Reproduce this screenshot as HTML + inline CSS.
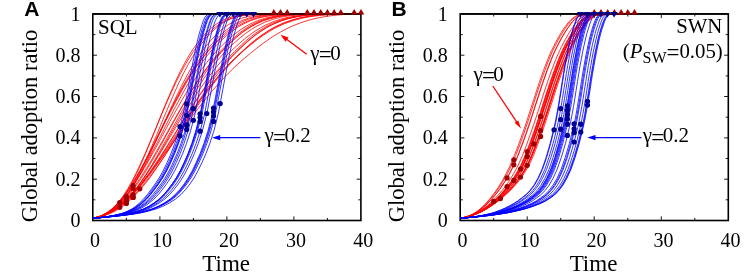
<!DOCTYPE html>
<html lang="en">
<head>
<meta charset="utf-8">
<title>Global adoption ratio vs time</title>
<style>
html,body{margin:0;padding:0;background:#fff;}
body{width:747px;height:278px;overflow:hidden;}
svg{display:block;}
</style>
</head>
<body>
<svg width="747" height="278" viewBox="0 0 747 278" font-family="'Liberation Serif', 'Times New Roman', serif" fill="#000">
<rect width="747" height="278" fill="#fff"/>
<g stroke="#000" stroke-width="1.6" fill="none">
<rect x="92.8" y="13.9" width="268.1" height="206.6"/>
</g>
<g stroke="#000" stroke-width="0.9" fill="none">
<path d="M126.4,220.5 v-2.6 M126.4,13.9 v2.6"/>
<path d="M159.9,220.5 v-4.2 M159.9,13.9 v4.2"/>
<path d="M193.4,220.5 v-2.6 M193.4,13.9 v2.6"/>
<path d="M226.9,220.5 v-4.2 M226.9,13.9 v4.2"/>
<path d="M260.4,220.5 v-2.6 M260.4,13.9 v2.6"/>
<path d="M293.9,220.5 v-4.2 M293.9,13.9 v4.2"/>
<path d="M327.4,220.5 v-2.6 M327.4,13.9 v2.6"/>
<path d="M92.8,199.8 h2.6 M360.9,199.8 h-2.6"/>
<path d="M92.8,179.2 h4.2 M360.9,179.2 h-4.2"/>
<path d="M92.8,158.5 h2.6 M360.9,158.5 h-2.6"/>
<path d="M92.8,137.9 h4.2 M360.9,137.9 h-4.2"/>
<path d="M92.8,117.2 h2.6 M360.9,117.2 h-2.6"/>
<path d="M92.8,96.5 h4.2 M360.9,96.5 h-4.2"/>
<path d="M92.8,75.9 h2.6 M360.9,75.9 h-2.6"/>
<path d="M92.8,55.2 h4.2 M360.9,55.2 h-4.2"/>
<path d="M92.8,34.6 h2.6 M360.9,34.6 h-2.6"/>
</g>
<clipPath id="clipA"><rect x="92.8" y="5.9" width="274.1" height="215.1"/></clipPath>
<g clip-path="url(#clipA)">
<g fill="none" stroke="#ff0000" stroke-width="0.8" stroke-linejoin="round">
<path d="M92.8,218.2 L97.2,217.4 L101.6,216.1 L106.0,214.1 L110.3,211.3 L114.7,207.6 L119.1,202.8 L123.4,197.0 L127.8,190.2 L132.2,182.4 L136.5,173.7 L140.9,164.3 L145.3,154.2 L149.6,143.7 L154.0,133.0 L158.4,122.1 L162.7,111.2 L167.1,100.6 L171.5,90.4 L175.8,80.7 L180.2,71.6 L184.6,63.3 L188.9,55.6 L193.3,48.8 L197.7,42.8 L202.1,37.5 L206.4,32.6 L210.8,28.5 L215.2,24.9 L219.5,22.0 L225.6,19.0 L231.6,16.9 L237.6,15.6 L243.7,14.8 L249.7,14.3 L255.7,14.1 L261.8,14.0 L267.8,13.9 L273.8,13.9"/>
<path d="M92.8,218.2 L97.2,217.3 L101.6,215.9 L106.0,213.7 L110.3,210.6 L114.7,206.6 L119.1,201.6 L123.4,195.6 L127.8,188.7 L132.2,180.9 L136.5,172.3 L140.9,163.0 L145.3,153.2 L149.6,143.1 L154.0,132.7 L158.4,122.2 L162.7,111.9 L167.1,101.7 L171.5,92.0 L175.8,82.6 L180.2,73.9 L184.6,65.8 L188.9,58.4 L193.3,51.6 L197.7,45.6 L202.1,40.3 L206.4,35.3 L210.8,30.9 L215.2,27.1 L219.5,23.9 L225.6,20.5 L231.6,18.0 L237.6,16.3 L243.7,15.2 L249.7,14.6 L255.7,14.2 L261.8,14.0 L267.8,13.9 L273.8,13.9"/>
<path d="M92.8,218.2 L97.4,217.4 L101.9,216.2 L106.4,214.4 L111.0,211.9 L115.5,208.4 L120.0,204.0 L124.6,198.5 L129.1,192.0 L133.6,184.5 L138.1,176.1 L142.7,166.9 L147.2,157.0 L151.7,146.6 L156.3,135.8 L160.8,124.9 L165.3,113.9 L169.9,103.2 L174.4,92.8 L178.9,82.8 L183.4,73.5 L188.0,64.8 L192.5,57.0 L197.0,49.9 L201.6,43.6 L206.1,38.1 L210.6,33.1 L215.2,28.8 L219.7,25.1 L224.2,22.1 L230.5,19.0 L236.7,16.9 L243.0,15.5 L249.2,14.7 L255.5,14.3 L261.8,14.1 L268.0,14.0 L274.3,13.9 L280.5,13.9"/>
<path d="M92.8,218.2 L97.5,217.3 L102.2,216.0 L106.9,214.0 L111.6,211.2 L116.3,207.4 L121.0,202.8 L125.7,197.1 L130.4,190.5 L135.1,183.0 L139.8,174.6 L144.5,165.6 L149.2,156.0 L153.8,145.9 L158.5,135.5 L163.2,125.1 L167.9,114.7 L172.6,104.4 L177.3,94.5 L182.0,85.0 L186.7,76.0 L191.4,67.7 L196.1,60.0 L200.8,53.0 L205.5,46.8 L210.1,41.2 L214.8,36.1 L219.5,31.5 L224.2,27.6 L228.9,24.3 L235.4,20.7 L241.9,18.1 L248.3,16.4 L254.8,15.3 L261.3,14.6 L267.8,14.2 L274.3,14.0 L280.7,13.9 L287.2,13.9"/>
<path d="M92.8,218.2 L97.5,217.2 L102.2,215.5 L106.9,213.1 L111.6,209.9 L116.3,205.7 L121.0,200.6 L125.7,194.6 L130.4,187.8 L135.1,180.2 L139.8,172.0 L144.5,163.2 L149.2,154.0 L153.8,144.5 L158.5,134.8 L163.2,125.0 L167.9,115.3 L172.6,105.8 L177.3,96.6 L182.0,87.8 L186.7,79.5 L191.4,71.6 L196.1,64.3 L200.8,57.6 L205.5,51.5 L210.1,46.0 L214.8,40.8 L219.5,36.0 L224.2,31.7 L228.9,28.0 L235.4,23.8 L241.9,20.5 L248.3,18.2 L254.8,16.5 L261.3,15.4 L267.8,14.7 L274.3,14.3 L280.7,14.0 L287.2,13.9"/>
<path d="M92.8,218.2 L98.0,217.0 L103.2,214.9 L108.4,211.8 L113.6,207.7 L118.7,202.5 L123.9,196.3 L129.1,189.1 L134.3,181.0 L139.4,172.2 L144.6,162.7 L149.8,152.8 L155.0,142.6 L160.2,132.3 L165.3,121.9 L170.5,111.7 L175.7,101.8 L180.9,92.3 L186.0,83.2 L191.2,74.7 L196.4,66.9 L201.6,59.6 L206.7,53.1 L211.9,47.2 L217.1,41.9 L222.3,37.3 L227.5,33.0 L232.6,29.2 L237.8,25.9 L243.0,23.1 L250.1,20.1 L257.3,17.8 L264.4,16.3 L271.6,15.3 L278.7,14.6 L285.9,14.3 L293.0,14.1 L300.2,14.0 L307.3,13.9"/>
<path d="M92.8,218.2 L97.5,217.1 L102.2,215.3 L106.9,212.6 L111.6,209.1 L116.3,204.6 L121.0,199.3 L125.7,193.2 L130.4,186.3 L135.1,178.7 L139.8,170.5 L144.5,161.9 L149.2,152.9 L153.8,143.6 L158.5,134.2 L163.2,124.8 L167.9,115.5 L172.6,106.4 L177.3,97.6 L182.0,89.1 L186.7,81.1 L191.4,73.5 L196.1,66.4 L200.8,59.9 L205.5,53.9 L210.1,48.4 L214.8,43.2 L219.5,38.3 L224.2,33.9 L228.9,30.0 L235.4,25.5 L241.9,22.0 L248.3,19.3 L254.8,17.3 L261.3,15.9 L267.8,15.0 L274.3,14.4 L280.7,14.1 L287.2,13.9"/>
<path d="M92.8,218.2 L98.0,217.0 L103.2,215.0 L108.4,212.1 L113.6,208.3 L118.7,203.6 L123.9,197.9 L129.1,191.4 L134.3,184.1 L139.4,176.1 L144.6,167.6 L149.8,158.6 L155.0,149.2 L160.2,139.7 L165.3,130.1 L170.5,120.5 L175.7,111.1 L180.9,101.9 L186.0,93.1 L191.2,84.7 L196.4,76.8 L201.6,69.4 L206.7,62.5 L211.9,56.2 L217.1,50.4 L222.3,45.2 L227.5,40.3 L232.6,35.7 L237.8,31.7 L243.0,28.1 L250.1,24.0 L257.3,20.8 L264.4,18.4 L271.6,16.7 L278.7,15.5 L285.9,14.8 L293.0,14.3 L300.2,14.1 L307.3,13.9"/>
<path d="M92.8,218.2 L98.0,217.1 L103.2,215.2 L108.4,212.4 L113.6,208.7 L118.7,203.9 L123.9,198.2 L129.1,191.5 L134.3,183.9 L139.4,175.5 L144.6,166.4 L149.8,156.9 L155.0,146.9 L160.2,136.8 L165.3,126.5 L170.5,116.3 L175.7,106.4 L180.9,96.7 L186.0,87.5 L191.2,78.8 L196.4,70.6 L201.6,63.1 L206.7,56.2 L211.9,50.0 L217.1,44.4 L222.3,39.5 L227.5,34.9 L232.6,30.8 L237.8,27.2 L243.0,24.2 L250.1,20.8 L257.3,18.4 L264.4,16.6 L271.6,15.5 L278.7,14.8 L285.9,14.3 L293.0,14.1 L300.2,14.0 L307.3,13.9"/>
<path d="M92.8,218.2 L98.0,217.1 L103.2,215.4 L108.4,213.0 L113.6,209.8 L118.7,205.7 L123.9,200.7 L129.1,194.9 L134.3,188.3 L139.4,181.0 L144.6,173.1 L149.8,164.6 L155.0,155.7 L160.2,146.5 L165.3,137.1 L170.5,127.6 L175.7,118.2 L180.9,109.0 L186.0,100.0 L191.2,91.3 L196.4,83.0 L201.6,75.2 L206.7,67.9 L211.9,61.2 L217.1,55.0 L222.3,49.3 L227.5,43.9 L232.6,38.9 L237.8,34.3 L243.0,30.3 L250.1,25.7 L257.3,22.0 L264.4,19.3 L271.6,17.3 L278.7,15.9 L285.9,15.0 L293.0,14.4 L300.2,14.1 L307.3,13.9"/>
<path d="M92.8,218.2 L98.2,217.0 L103.5,215.0 L108.9,212.2 L114.2,208.5 L119.5,203.9 L124.9,198.4 L130.2,192.1 L135.6,184.9 L140.9,177.1 L146.2,168.7 L151.6,159.9 L156.9,150.7 L162.3,141.2 L167.6,131.7 L172.9,122.2 L178.3,112.8 L183.6,103.7 L188.9,94.9 L194.3,86.4 L199.6,78.4 L205.0,71.0 L210.3,64.0 L215.6,57.6 L221.0,51.8 L226.3,46.5 L231.7,41.4 L237.0,36.7 L242.3,32.5 L247.7,28.8 L255.1,24.6 L262.4,21.2 L269.8,18.7 L277.2,16.9 L284.5,15.7 L291.9,14.9 L299.3,14.4 L306.7,14.1 L314.0,13.9"/>
<path d="M92.8,218.2 L98.2,217.1 L103.5,215.6 L108.9,213.3 L114.2,210.3 L119.5,206.4 L124.9,201.6 L130.2,195.9 L135.6,189.3 L140.9,182.0 L146.2,174.0 L151.6,165.4 L156.9,156.3 L162.3,146.8 L167.6,137.1 L172.9,127.4 L178.3,117.6 L183.6,108.1 L188.9,98.8 L194.3,89.8 L199.6,81.3 L205.0,73.3 L210.3,65.8 L215.6,58.9 L221.0,52.7 L226.3,47.0 L231.7,41.6 L237.0,36.6 L242.3,32.2 L247.7,28.4 L255.1,24.0 L262.4,20.7 L269.8,18.3 L277.2,16.5 L284.5,15.4 L291.9,14.7 L299.3,14.3 L306.7,14.0 L314.0,13.9"/>
<path d="M92.8,218.2 L98.5,217.0 L104.2,215.3 L109.8,212.8 L115.5,209.4 L121.2,205.0 L126.8,199.7 L132.5,193.5 L138.1,186.4 L143.8,178.5 L149.5,169.9 L155.1,160.7 L160.8,151.2 L166.5,141.3 L172.1,131.3 L177.8,121.3 L183.4,111.4 L189.1,101.8 L194.8,92.5 L200.4,83.7 L206.1,75.4 L211.8,67.6 L217.4,60.5 L223.1,54.0 L228.7,48.1 L234.4,42.8 L240.1,37.8 L245.7,33.3 L251.4,29.4 L257.1,26.0 L264.9,22.2 L272.7,19.4 L280.5,17.3 L288.3,15.9 L296.2,15.0 L304.0,14.5 L311.8,14.2 L319.6,14.0 L327.4,13.9"/>
<path d="M92.8,218.2 L98.5,217.0 L104.2,215.0 L109.8,212.3 L115.5,208.7 L121.2,204.3 L126.8,198.9 L132.5,192.7 L138.1,185.8 L143.8,178.1 L149.5,169.9 L155.1,161.2 L160.8,152.1 L166.5,142.8 L172.1,133.4 L177.8,124.0 L183.4,114.7 L189.1,105.6 L194.8,96.8 L200.4,88.4 L206.1,80.4 L211.8,72.8 L217.4,65.8 L223.1,59.3 L228.7,53.4 L234.4,48.0 L240.1,42.8 L245.7,38.0 L251.4,33.7 L257.1,29.8 L264.9,25.4 L272.7,21.9 L280.5,19.2 L288.3,17.3 L296.2,15.9 L304.0,15.0 L311.8,14.4 L319.6,14.1 L327.4,13.9"/>
<path d="M92.8,218.2 L98.5,217.0 L104.2,215.1 L109.8,212.5 L115.5,209.1 L121.2,204.9 L126.8,199.8 L132.5,194.0 L138.1,187.5 L143.8,180.3 L149.5,172.6 L155.1,164.4 L160.8,155.8 L166.5,147.0 L172.1,138.1 L177.8,129.1 L183.4,120.1 L189.1,111.3 L194.8,102.8 L200.4,94.5 L206.1,86.5 L211.8,79.0 L217.4,71.9 L223.1,65.3 L228.7,59.1 L234.4,53.5 L240.1,47.9 L245.7,42.8 L251.4,38.0 L257.1,33.7 L264.9,28.6 L272.7,24.4 L280.5,21.2 L288.3,18.7 L296.2,16.9 L304.0,15.6 L311.8,14.8 L319.6,14.2 L327.4,13.9"/>
<path d="M92.8,218.2 L98.5,217.0 L104.2,215.3 L109.8,212.9 L115.5,209.6 L121.2,205.6 L126.8,200.7 L132.5,195.0 L138.1,188.5 L143.8,181.4 L149.5,173.6 L155.1,165.3 L160.8,156.7 L166.5,147.7 L172.1,138.5 L177.8,129.3 L183.4,120.1 L189.1,111.0 L194.8,102.2 L200.4,93.6 L206.1,85.5 L211.8,77.7 L217.4,70.5 L223.1,63.7 L228.7,57.5 L234.4,51.7 L240.1,46.2 L245.7,41.0 L251.4,36.3 L257.1,32.1 L264.9,27.2 L272.7,23.2 L280.5,20.2 L288.3,17.9 L296.2,16.4 L304.0,15.3 L311.8,14.6 L319.6,14.1 L327.4,13.9"/>
<path d="M92.8,218.2 L98.7,217.1 L104.5,215.6 L110.3,213.4 L116.1,210.6 L122.0,206.9 L127.8,202.3 L133.6,196.9 L139.4,190.7 L145.3,183.7 L151.1,176.0 L156.9,167.7 L162.7,158.9 L168.6,149.8 L174.4,140.4 L180.2,130.9 L186.0,121.3 L191.9,111.9 L197.7,102.7 L203.5,93.8 L209.3,85.3 L215.2,77.2 L221.0,69.6 L226.8,62.6 L232.6,56.1 L238.5,50.2 L244.3,44.6 L250.1,39.4 L255.9,34.7 L261.8,30.5 L269.8,25.7 L277.8,22.0 L285.9,19.2 L293.9,17.2 L302.0,15.8 L310.0,14.9 L318.1,14.4 L326.1,14.1 L334.1,13.9"/>
<path d="M92.8,218.2 L98.7,216.9 L104.5,214.8 L110.3,212.0 L116.1,208.4 L122.0,204.0 L127.8,198.8 L133.6,192.9 L139.4,186.3 L145.3,179.1 L151.1,171.4 L156.9,163.2 L162.7,154.8 L168.6,146.2 L174.4,137.4 L180.2,128.6 L186.0,119.9 L191.9,111.3 L197.7,103.0 L203.5,94.9 L209.3,87.2 L215.2,79.8 L221.0,72.9 L226.8,66.4 L232.6,60.4 L238.5,54.8 L244.3,49.4 L250.1,44.2 L255.9,39.4 L261.8,35.1 L269.8,29.8 L277.8,25.5 L285.9,22.0 L293.9,19.4 L302.0,17.4 L310.0,15.9 L318.1,15.0 L326.1,14.3 L334.1,13.9"/>
<path d="M92.8,218.2 L98.8,216.9 L104.8,214.9 L110.8,212.2 L116.8,208.6 L122.8,204.2 L128.8,198.9 L134.8,192.8 L140.7,186.1 L146.7,178.6 L152.7,170.7 L158.7,162.3 L164.7,153.5 L170.7,144.5 L176.7,135.4 L182.6,126.3 L188.6,117.3 L194.6,108.4 L200.6,99.8 L206.6,91.6 L212.6,83.7 L218.6,76.2 L224.5,69.2 L230.5,62.7 L236.5,56.8 L242.5,51.3 L248.5,45.9 L254.5,40.9 L260.5,36.3 L266.4,32.3 L274.7,27.4 L283.0,23.5 L291.2,20.5 L299.5,18.2 L307.8,16.5 L316.0,15.4 L324.3,14.7 L332.6,14.2 L340.8,13.9"/>
<path d="M92.8,218.2 L99.2,216.9 L105.5,214.9 L111.8,212.1 L118.1,208.5 L124.4,203.9 L130.7,198.4 L137.0,192.0 L143.3,184.8 L149.6,176.9 L155.9,168.3 L162.3,159.3 L168.6,149.9 L174.9,140.4 L181.2,130.7 L187.5,121.0 L193.8,111.5 L200.1,102.2 L206.4,93.3 L212.7,84.8 L219.0,76.8 L225.4,69.3 L231.7,62.3 L238.0,55.9 L244.3,50.1 L250.6,44.9 L256.9,39.9 L263.2,35.4 L269.5,31.3 L275.8,27.7 L284.5,23.7 L293.3,20.6 L302.0,18.2 L310.7,16.6 L319.4,15.5 L328.1,14.7 L336.8,14.3 L345.5,14.0 L354.2,13.9"/>
<path d="M92.8,218.2 L99.2,216.5 L105.5,213.9 L111.8,210.4 L118.1,206.1 L124.4,200.9 L130.7,195.0 L137.0,188.4 L143.3,181.2 L149.6,173.5 L155.9,165.4 L162.3,157.0 L168.6,148.5 L174.9,139.8 L181.2,131.2 L187.5,122.6 L193.8,114.2 L200.1,106.0 L206.4,98.0 L212.7,90.4 L219.0,83.2 L225.4,76.3 L231.7,69.9 L238.0,63.9 L244.3,58.4 L250.6,53.2 L256.9,48.1 L263.2,43.3 L269.5,38.8 L275.8,34.7 L284.5,29.8 L293.3,25.6 L302.0,22.3 L310.7,19.6 L319.4,17.6 L328.1,16.1 L336.8,15.1 L345.5,14.4 L354.2,13.9"/>
</g>
<g fill="none" stroke="#0000ff" stroke-width="0.8" stroke-linejoin="round">
<path d="M92.8,218.2 L96.8,217.9 L100.7,217.5 L104.6,217.0 L108.5,216.4 L112.4,215.7 L116.3,214.9 L120.1,213.9 L124.0,212.7 L127.9,211.0 L131.8,209.0 L135.7,206.3 L139.5,203.0 L143.4,199.2 L147.3,194.6 L151.3,189.3 L155.2,183.9 L159.1,178.0 L163.0,171.0 L167.0,162.8 L170.9,153.8 L174.8,143.4 L178.8,131.2 L182.7,116.1 L184.0,109.9 L185.3,103.0 L186.6,96.1 L187.9,89.1 L189.1,82.0 L190.4,75.0 L191.7,68.3 L193.0,61.6 L194.3,55.2 L195.6,49.0 L196.9,43.2 L198.2,37.8 L199.5,32.9 L200.8,28.4 L202.1,24.3 L203.4,20.6 L204.6,17.9 L205.9,16.0 L207.2,15.0 L208.5,14.2 L209.8,13.9"/>
<path d="M92.8,218.2 L96.8,217.9 L100.8,217.5 L104.9,217.0 L108.9,216.4 L113.0,215.7 L117.1,214.9 L121.2,213.9 L125.3,212.7 L129.4,211.0 L133.6,209.0 L137.7,206.3 L141.7,203.0 L145.8,199.2 L149.8,194.6 L153.8,189.3 L157.8,183.9 L161.7,178.0 L165.7,171.0 L169.6,162.8 L173.6,153.8 L177.5,143.4 L181.5,131.2 L185.4,116.1 L186.7,109.9 L188.0,103.0 L189.3,96.1 L190.6,89.1 L191.9,82.0 L193.2,75.0 L194.5,68.3 L195.8,61.6 L197.1,55.2 L198.4,49.0 L199.7,43.2 L201.0,37.8 L202.3,32.9 L203.6,28.4 L204.9,24.3 L206.2,20.6 L207.5,17.9 L208.8,16.0 L210.1,15.0 L211.3,14.2 L212.6,13.9"/>
<path d="M92.8,218.2 L96.8,217.9 L100.8,217.5 L104.8,217.0 L108.7,216.4 L112.7,215.7 L116.7,214.9 L120.7,213.9 L124.7,212.7 L128.7,211.0 L132.7,209.0 L136.7,206.3 L140.6,203.0 L144.6,199.2 L148.6,194.6 L152.6,189.3 L156.5,183.9 L160.5,178.0 L164.4,171.0 L168.4,162.8 L172.4,153.8 L176.3,143.4 L180.3,131.2 L184.2,116.1 L185.5,109.9 L186.8,103.0 L188.1,96.1 L189.4,89.1 L190.7,82.0 L192.0,75.0 L193.3,68.3 L194.6,61.6 L195.9,55.2 L197.2,49.0 L198.5,43.2 L199.8,37.8 L201.1,32.9 L202.4,28.4 L203.7,24.3 L205.0,20.6 L206.3,17.9 L207.6,16.0 L208.9,15.0 L210.2,14.2 L211.5,13.9"/>
<path d="M92.8,218.2 L96.9,217.9 L100.9,217.5 L105.0,217.0 L109.1,216.4 L113.3,215.7 L117.4,214.9 L121.6,213.9 L125.7,212.7 L129.9,211.0 L134.1,209.0 L138.2,206.3 L142.4,203.0 L146.5,199.2 L150.6,194.6 L154.6,189.3 L158.6,183.9 L162.6,178.0 L166.6,171.0 L170.6,162.8 L174.6,153.8 L178.6,143.4 L182.5,131.2 L186.5,116.1 L187.8,109.9 L189.2,103.0 L190.5,96.1 L191.8,89.1 L193.1,82.0 L194.4,75.0 L195.7,68.3 L197.0,61.6 L198.3,55.2 L199.6,49.0 L200.9,43.2 L202.3,37.8 L203.6,32.9 L204.9,28.4 L206.2,24.3 L207.5,20.6 L208.8,17.9 L210.1,16.0 L211.4,15.0 L212.7,14.2 L214.1,13.9"/>
<path d="M92.8,218.2 L96.9,217.9 L101.0,217.5 L105.2,217.0 L109.5,216.4 L113.8,215.7 L118.2,214.9 L122.6,213.9 L127.0,212.7 L131.4,211.0 L135.8,209.0 L140.1,206.3 L144.5,203.0 L148.7,199.2 L152.9,194.6 L157.0,189.3 L161.1,183.9 L165.1,178.0 L169.1,171.0 L173.0,162.8 L177.0,153.8 L181.0,143.4 L185.0,131.2 L189.0,116.1 L190.3,109.9 L191.7,103.0 L193.0,96.1 L194.3,89.1 L195.6,82.0 L196.9,75.0 L198.2,68.3 L199.5,61.6 L200.8,55.2 L202.2,49.0 L203.5,43.2 L204.8,37.8 L206.1,32.9 L207.4,28.4 L208.7,24.3 L210.0,20.6 L211.3,17.9 L212.7,16.0 L214.0,15.0 L215.3,14.2 L216.6,13.9"/>
<path d="M92.8,218.2 L96.9,217.9 L101.0,217.5 L105.3,217.0 L109.7,216.4 L114.1,215.7 L118.7,214.9 L123.2,213.9 L127.8,212.7 L132.4,211.0 L137.0,209.0 L141.5,206.3 L145.9,203.0 L150.3,199.2 L154.6,194.6 L158.7,189.3 L162.7,183.9 L166.6,178.0 L170.5,171.0 L174.4,162.8 L178.4,153.8 L182.3,143.4 L186.2,131.2 L190.1,116.1 L191.4,109.9 L192.7,103.0 L194.0,96.1 L195.3,89.1 L196.6,82.0 L197.9,75.0 L199.2,68.3 L200.5,61.6 L201.8,55.2 L203.0,49.0 L204.3,43.2 L205.6,37.8 L206.9,32.9 L208.2,28.4 L209.5,24.3 L210.8,20.6 L212.1,17.9 L213.4,16.0 L214.7,15.0 L215.9,14.2 L217.2,13.9"/>
<path d="M92.8,218.2 L96.9,217.9 L101.1,217.5 L105.5,217.0 L110.0,216.4 L114.5,215.7 L119.2,214.9 L123.9,213.9 L128.6,212.7 L133.4,211.0 L138.1,209.0 L142.7,206.3 L147.3,203.0 L151.8,199.2 L156.1,194.6 L160.3,189.3 L164.3,183.9 L168.2,178.0 L172.2,171.0 L176.1,162.8 L180.1,153.8 L184.0,143.4 L187.9,131.2 L191.9,116.1 L193.2,109.9 L194.5,103.0 L195.8,96.1 L197.1,89.1 L198.4,82.0 L199.6,75.0 L200.9,68.3 L202.2,61.6 L203.5,55.2 L204.8,49.0 L206.1,43.2 L207.4,37.8 L208.7,32.9 L210.0,28.4 L211.3,24.3 L212.6,20.6 L213.9,17.9 L215.2,16.0 L216.5,15.0 L217.8,14.2 L219.1,13.9"/>
<path d="M92.8,218.2 L96.9,217.9 L101.3,217.5 L105.7,217.0 L110.4,216.4 L115.1,215.7 L120.0,214.9 L124.9,213.9 L129.8,212.7 L134.8,211.0 L139.7,209.0 L144.5,206.3 L149.2,203.0 L153.8,199.2 L158.3,194.6 L162.6,189.3 L166.6,183.9 L170.6,178.0 L174.6,171.0 L178.6,162.8 L182.6,153.8 L186.5,143.4 L190.5,131.2 L194.5,116.1 L195.8,109.9 L197.1,103.0 L198.4,96.1 L199.7,89.1 L201.0,82.0 L202.4,75.0 L203.7,68.3 L205.0,61.6 L206.3,55.2 L207.6,49.0 L208.9,43.2 L210.2,37.8 L211.5,32.9 L212.8,28.4 L214.1,24.3 L215.4,20.6 L216.7,17.9 L218.0,16.0 L219.4,15.0 L220.7,14.2 L222.0,13.9"/>
<path d="M92.8,218.2 L97.0,217.9 L101.4,217.5 L106.2,217.0 L111.2,216.4 L116.4,215.7 L121.7,214.9 L127.2,213.9 L132.7,212.7 L138.2,211.0 L143.7,209.0 L149.0,206.3 L154.2,203.0 L159.1,199.2 L163.8,194.6 L168.2,189.3 L172.3,183.9 L176.2,178.0 L180.1,171.0 L184.0,162.8 L187.9,153.8 L191.8,143.4 L195.7,131.2 L199.6,116.1 L200.9,109.9 L202.2,103.0 L203.5,96.1 L204.8,89.1 L206.0,82.0 L207.3,75.0 L208.6,68.3 L209.9,61.6 L211.2,55.2 L212.5,49.0 L213.7,43.2 L215.0,37.8 L216.3,32.9 L217.6,28.4 L218.9,24.3 L220.2,20.6 L221.4,17.9 L222.7,16.0 L224.0,15.0 L225.3,14.2 L226.6,13.9"/>
<path d="M92.8,218.2 L97.0,217.9 L101.5,217.5 L106.3,217.0 L111.3,216.4 L116.6,215.7 L122.0,214.9 L127.4,213.9 L133.0,212.7 L138.5,211.0 L144.0,209.0 L149.4,206.3 L154.6,203.0 L159.6,199.2 L164.3,194.6 L168.7,189.3 L172.8,183.9 L176.8,178.0 L180.7,171.0 L184.7,162.8 L188.6,153.8 L192.6,143.4 L196.5,131.2 L200.5,116.1 L201.8,109.9 L203.1,103.0 L204.4,96.1 L205.7,89.1 L207.0,82.0 L208.3,75.0 L209.6,68.3 L210.9,61.6 L212.1,55.2 L213.4,49.0 L214.7,43.2 L216.0,37.8 L217.3,32.9 L218.6,28.4 L219.9,24.3 L221.2,20.6 L222.5,17.9 L223.8,16.0 L225.1,15.0 L226.4,14.2 L227.7,13.9"/>
<path d="M92.8,218.2 L97.0,217.9 L101.5,217.5 L106.4,217.0 L111.5,216.4 L116.8,215.7 L122.3,214.9 L127.8,213.9 L133.5,212.7 L139.1,211.0 L144.6,209.0 L150.1,206.3 L155.4,203.0 L160.4,199.2 L165.2,194.6 L169.7,189.3 L173.8,183.9 L177.7,178.0 L181.7,171.0 L185.7,162.8 L189.6,153.8 L193.6,143.4 L197.5,131.2 L201.5,116.1 L202.8,109.9 L204.1,103.0 L205.4,96.1 L206.7,89.1 L208.0,82.0 L209.3,75.0 L210.6,68.3 L211.9,61.6 L213.2,55.2 L214.5,49.0 L215.8,43.2 L217.1,37.8 L218.4,32.9 L219.7,28.4 L221.0,24.3 L222.3,20.6 L223.6,17.9 L224.9,16.0 L226.2,15.0 L227.5,14.2 L228.8,13.9"/>
<path d="M92.8,218.2 L97.1,217.9 L101.7,217.5 L106.7,217.0 L111.9,216.4 L117.4,215.7 L123.1,214.9 L128.8,213.9 L134.7,212.7 L140.5,211.0 L146.2,209.0 L151.8,206.3 L157.3,203.0 L162.5,199.2 L167.4,194.6 L172.0,189.3 L176.1,183.9 L180.1,178.0 L184.1,171.0 L188.1,162.8 L192.1,153.8 L196.1,143.4 L200.1,131.2 L204.1,116.1 L205.4,109.9 L206.7,103.0 L208.0,96.1 L209.4,89.1 L210.7,82.0 L212.0,75.0 L213.3,68.3 L214.6,61.6 L215.9,55.2 L217.2,49.0 L218.6,43.2 L219.9,37.8 L221.2,32.9 L222.5,28.4 L223.8,24.3 L225.1,20.6 L226.4,17.9 L227.8,16.0 L229.1,15.0 L230.4,14.2 L231.7,13.9"/>
<path d="M92.8,218.2 L97.1,217.9 L101.8,217.5 L106.9,217.0 L112.3,216.4 L117.9,215.7 L123.8,214.9 L129.8,213.9 L135.8,212.7 L141.8,211.0 L147.8,209.0 L153.6,206.3 L159.2,203.0 L164.6,199.2 L169.6,194.6 L174.2,189.3 L178.4,183.9 L182.4,178.0 L186.3,171.0 L190.3,162.8 L194.3,153.8 L198.3,143.4 L202.3,131.2 L206.2,116.1 L207.6,109.9 L208.9,103.0 L210.2,96.1 L211.5,89.1 L212.8,82.0 L214.1,75.0 L215.4,68.3 L216.7,61.6 L218.0,55.2 L219.3,49.0 L220.6,43.2 L222.0,37.8 L223.3,32.9 L224.6,28.4 L225.9,24.3 L227.2,20.6 L228.5,17.9 L229.8,16.0 L231.1,15.0 L232.4,14.2 L233.7,13.9"/>
<path d="M92.8,218.2 L97.1,217.9 L102.0,217.5 L107.4,217.0 L113.1,216.4 L119.3,215.7 L125.6,214.9 L132.2,213.9 L138.8,212.7 L145.4,211.0 L151.9,209.0 L158.2,206.3 L164.2,203.0 L170.0,199.2 L175.2,194.6 L180.0,189.3 L184.2,183.9 L188.1,178.0 L192.1,171.0 L196.0,162.8 L200.0,153.8 L203.9,143.4 L207.9,131.2 L211.8,116.1 L213.1,109.9 L214.4,103.0 L215.7,96.1 L217.0,89.1 L218.3,82.0 L219.6,75.0 L220.9,68.3 L222.2,61.6 L223.5,55.2 L224.8,49.0 L226.1,43.2 L227.4,37.8 L228.7,32.9 L230.0,28.4 L231.3,24.3 L232.6,20.6 L233.9,17.9 L235.2,16.0 L236.5,15.0 L237.8,14.2 L239.1,13.9"/>
<path d="M92.8,218.2 L97.1,217.9 L102.0,217.5 L107.4,217.0 L113.3,216.4 L119.4,215.7 L125.9,214.9 L132.5,213.9 L139.2,212.7 L145.8,211.0 L152.4,209.0 L158.8,206.3 L164.9,203.0 L170.7,199.2 L176.0,194.6 L180.8,189.3 L185.0,183.9 L188.9,178.0 L192.9,171.0 L196.8,162.8 L200.8,153.8 L204.7,143.4 L208.7,131.2 L212.6,116.1 L213.9,109.9 L215.2,103.0 L216.5,96.1 L217.8,89.1 L219.1,82.0 L220.4,75.0 L221.7,68.3 L223.0,61.6 L224.3,55.2 L225.6,49.0 L226.9,43.2 L228.2,37.8 L229.5,32.9 L230.8,28.4 L232.1,24.3 L233.4,20.6 L234.7,17.9 L236.0,16.0 L237.3,15.0 L238.6,14.2 L239.9,13.9"/>
<path d="M92.8,218.2 L97.1,217.9 L102.1,217.5 L107.5,217.0 L113.4,216.4 L119.6,215.7 L126.1,214.9 L132.8,213.9 L139.6,212.7 L146.3,211.0 L153.0,209.0 L159.4,206.3 L165.6,203.0 L171.4,199.2 L176.8,194.6 L181.6,189.3 L185.8,183.9 L189.7,178.0 L193.7,171.0 L197.6,162.8 L201.6,153.8 L205.6,143.4 L209.5,131.2 L213.5,116.1 L214.8,109.9 L216.1,103.0 L217.4,96.1 L218.7,89.1 L220.0,82.0 L221.3,75.0 L222.6,68.3 L223.9,61.6 L225.2,55.2 L226.5,49.0 L227.8,43.2 L229.1,37.8 L230.4,32.9 L231.7,28.4 L233.0,24.3 L234.3,20.6 L235.6,17.9 L236.9,16.0 L238.2,15.0 L239.5,14.2 L240.8,13.9"/>
<path d="M92.8,218.2 L97.2,217.9 L102.2,217.5 L107.7,217.0 L113.7,216.4 L120.0,215.7 L126.5,214.9 L133.3,213.9 L140.1,212.7 L147.0,211.0 L153.7,209.0 L160.2,206.3 L166.5,203.0 L172.4,199.2 L177.8,194.6 L182.6,189.3 L186.9,183.9 L190.9,178.0 L194.9,171.0 L198.9,162.8 L202.9,153.8 L206.9,143.4 L210.9,131.2 L214.9,116.1 L216.2,109.9 L217.5,103.0 L218.9,96.1 L220.2,89.1 L221.5,82.0 L222.8,75.0 L224.1,68.3 L225.4,61.6 L226.8,55.2 L228.1,49.0 L229.4,43.2 L230.7,37.8 L232.0,32.9 L233.3,28.4 L234.7,24.3 L236.0,20.6 L237.3,17.9 L238.6,16.0 L239.9,15.0 L241.2,14.2 L242.6,13.9"/>
<path d="M92.8,218.2 L97.2,217.9 L102.2,217.5 L107.9,217.0 L114.1,216.4 L120.6,215.7 L127.5,214.9 L134.6,213.9 L141.8,212.7 L148.9,211.0 L155.9,209.0 L162.8,206.3 L169.3,203.0 L175.3,199.2 L180.9,194.6 L185.8,189.3 L190.0,183.9 L194.0,178.0 L197.9,171.0 L201.9,162.8 L205.9,153.8 L209.8,143.4 L213.8,131.2 L217.7,116.1 L219.0,109.9 L220.3,103.0 L221.6,96.1 L222.9,89.1 L224.2,82.0 L225.5,75.0 L226.8,68.3 L228.1,61.6 L229.4,55.2 L230.7,49.0 L232.0,43.2 L233.3,37.8 L234.6,32.9 L235.9,28.4 L237.2,24.3 L238.5,20.6 L239.8,17.9 L241.1,16.0 L242.4,15.0 L243.7,14.2 L245.0,13.9"/>
<path d="M92.8,218.2 L96.8,217.9 L100.9,217.5 L104.9,217.0 L109.0,216.4 L113.1,215.7 L117.3,214.9 L121.4,213.9 L125.6,212.7 L129.7,211.0 L133.9,209.0 L138.0,206.3 L142.1,203.0 L146.2,199.2 L150.3,194.6 L154.3,189.3 L158.3,183.9 L162.2,178.0 L166.2,171.0 L170.2,162.8 L174.1,153.8 L178.1,143.4 L182.1,131.2 L186.0,116.1 L187.3,109.9 L188.6,103.0 L189.9,96.1 L191.2,89.1 L192.5,82.0 L193.8,75.0 L195.1,68.3 L196.4,61.6 L197.7,55.2 L199.0,49.0 L200.3,43.2 L201.6,37.8 L202.9,32.9 L204.2,28.4 L205.5,24.3 L206.8,20.6 L208.2,17.9 L209.5,16.0 L210.8,15.0 L212.1,14.2 L213.4,13.9"/>
<path d="M92.8,218.2 L97.0,217.9 L101.5,217.5 L106.3,217.0 L111.3,216.4 L116.5,215.7 L121.8,214.9 L127.3,213.9 L132.7,212.7 L138.2,211.0 L143.6,209.0 L149.0,206.3 L154.1,203.0 L159.1,199.2 L163.8,194.6 L168.3,189.3 L172.3,183.9 L176.3,178.0 L180.3,171.0 L184.2,162.8 L188.2,153.8 L192.2,143.4 L196.1,131.2 L200.1,116.1 L201.4,109.9 L202.7,103.0 L204.0,96.1 L205.3,89.1 L206.6,82.0 L207.9,75.0 L209.2,68.3 L210.5,61.6 L211.8,55.2 L213.1,49.0 L214.4,43.2 L215.7,37.8 L217.0,32.9 L218.3,28.4 L219.6,24.3 L220.9,20.6 L222.2,17.9 L223.5,16.0 L224.8,15.0 L226.1,14.2 L227.4,13.9"/>
</g>
<path d="M92.8,13.9 H360.9" stroke="#000" stroke-width="1.5" fill="none"/>
<g fill="#a00000">
<circle cx="119.7" cy="202.5" r="2.6"/>
<circle cx="119.7" cy="207.3" r="2.6"/>
<circle cx="126.4" cy="196.7" r="2.6"/>
<circle cx="126.4" cy="200.0" r="2.6"/>
<circle cx="126.4" cy="202.2" r="2.6"/>
<circle cx="126.4" cy="203.4" r="2.6"/>
<circle cx="133.1" cy="185.5" r="2.6"/>
<circle cx="133.1" cy="188.3" r="2.6"/>
<circle cx="133.1" cy="194.5" r="2.6"/>
<circle cx="133.1" cy="197.4" r="2.6"/>
<circle cx="133.1" cy="197.4" r="2.6"/>
<circle cx="139.8" cy="188.8" r="2.6"/>
<path d="M270.5,14.5 L277.1,14.5 L273.8,9.1 Z"/>
<path d="M277.2,14.5 L283.8,14.5 L280.5,9.1 Z"/>
<path d="M283.9,14.5 L290.5,14.5 L287.2,9.1 Z"/>
<path d="M304.0,14.5 L310.6,14.5 L307.3,9.1 Z"/>
<path d="M310.7,14.5 L317.3,14.5 L314.0,9.1 Z"/>
<path d="M317.4,14.5 L324.0,14.5 L320.7,9.1 Z"/>
<path d="M324.1,14.5 L330.7,14.5 L327.4,9.1 Z"/>
<path d="M330.8,14.5 L337.4,14.5 L334.1,9.1 Z"/>
<path d="M337.5,14.5 L344.1,14.5 L340.8,9.1 Z"/>
<path d="M350.9,14.5 L357.5,14.5 L354.2,9.1 Z"/>
<path d="M357.7,14.5 L364.3,14.5 L361.0,9.1 Z"/>
</g>
<g fill="#000090">
<circle cx="180.0" cy="126.5" r="2.6"/>
<circle cx="180.0" cy="135.8" r="2.6"/>
<circle cx="186.7" cy="103.8" r="2.6"/>
<circle cx="186.7" cy="115.3" r="2.6"/>
<circle cx="186.7" cy="124.9" r="2.6"/>
<circle cx="186.7" cy="129.4" r="2.6"/>
<circle cx="193.4" cy="108.7" r="2.6"/>
<circle cx="193.4" cy="120.3" r="2.6"/>
<circle cx="200.1" cy="113.8" r="2.6"/>
<circle cx="200.1" cy="117.5" r="2.6"/>
<circle cx="200.1" cy="121.4" r="2.6"/>
<circle cx="200.1" cy="131.2" r="2.6"/>
<circle cx="206.8" cy="113.5" r="2.6"/>
<circle cx="213.5" cy="108.0" r="2.6"/>
<circle cx="213.5" cy="111.9" r="2.6"/>
<circle cx="213.5" cy="116.0" r="2.6"/>
<circle cx="213.5" cy="121.4" r="2.6"/>
<circle cx="220.2" cy="103.6" r="2.6"/>
<path d="M216.3,11.9 L223.5,11.9 L219.9,17.5 Z"/>
<path d="M223.0,11.9 L230.2,11.9 L226.6,17.5 Z"/>
<path d="M229.7,11.9 L236.9,11.9 L233.3,17.5 Z"/>
<path d="M236.4,11.9 L243.6,11.9 L240.0,17.5 Z"/>
<path d="M243.1,11.9 L250.3,11.9 L246.7,17.5 Z"/>
<path d="M249.8,11.9 L257.0,11.9 L253.4,17.5 Z"/>
</g>
</g>
<g font-size="20" text-anchor="end">
<text x="80.4" y="226.9">0</text>
<text x="80.4" y="185.6">0.2</text>
<text x="80.4" y="144.3">0.4</text>
<text x="80.4" y="102.9">0.6</text>
<text x="80.4" y="61.6">0.8</text>
<text x="80.4" y="20.8">1</text>
</g>
<g font-size="20" text-anchor="middle">
<text x="95.0" y="247.2">0</text>
<text x="162.1" y="247.2">10</text>
<text x="229.1" y="247.2">20</text>
<text x="296.1" y="247.2">30</text>
<text x="363.2" y="247.2">40</text>
</g>
<text x="226.2" y="270.8" font-size="23" text-anchor="middle">Time</text>
<text transform="translate(36.8,126.0) rotate(-90)" font-size="22.5" text-anchor="middle">Global adoption ratio</text>
<text x="24.2" y="16.4" font-family="'Liberation Sans', Arial, sans-serif" font-weight="bold" font-size="21">A</text>
<g stroke="#000" stroke-width="1.6" fill="none">
<rect x="460.2" y="13.9" width="268.1" height="206.6"/>
</g>
<g stroke="#000" stroke-width="0.9" fill="none">
<path d="M493.7,220.5 v-2.6 M493.7,13.9 v2.6"/>
<path d="M527.2,220.5 v-4.2 M527.2,13.9 v4.2"/>
<path d="M560.7,220.5 v-2.6 M560.7,13.9 v2.6"/>
<path d="M594.2,220.5 v-4.2 M594.2,13.9 v4.2"/>
<path d="M627.8,220.5 v-2.6 M627.8,13.9 v2.6"/>
<path d="M661.3,220.5 v-4.2 M661.3,13.9 v4.2"/>
<path d="M694.8,220.5 v-2.6 M694.8,13.9 v2.6"/>
<path d="M460.2,199.8 h2.6 M728.3,199.8 h-2.6"/>
<path d="M460.2,179.2 h4.2 M728.3,179.2 h-4.2"/>
<path d="M460.2,158.5 h2.6 M728.3,158.5 h-2.6"/>
<path d="M460.2,137.9 h4.2 M728.3,137.9 h-4.2"/>
<path d="M460.2,117.2 h2.6 M728.3,117.2 h-2.6"/>
<path d="M460.2,96.5 h4.2 M728.3,96.5 h-4.2"/>
<path d="M460.2,75.9 h2.6 M728.3,75.9 h-2.6"/>
<path d="M460.2,55.2 h4.2 M728.3,55.2 h-4.2"/>
<path d="M460.2,34.6 h2.6 M728.3,34.6 h-2.6"/>
</g>
<clipPath id="clipB"><rect x="460.2" y="5.9" width="274.1" height="215.1"/></clipPath>
<g clip-path="url(#clipB)">
<g fill="none" stroke="#ff0000" stroke-width="0.8" stroke-linejoin="round">
<path d="M460.2,218.2 L464.7,217.4 L469.5,216.0 L474.6,214.2 L479.8,211.6 L485.1,208.2 L490.5,204.2 L495.8,199.4 L501.2,194.1 L506.5,188.2 L511.6,181.5 L516.5,173.9 L521.3,165.4 L525.6,155.6 L529.8,144.8 L533.9,133.2 L538.1,121.0 L542.3,108.0 L546.4,95.0 L550.6,82.3 L554.8,70.5 L558.9,59.6 L560.9,54.9 L562.8,50.6 L564.8,46.6 L566.7,42.8 L568.6,39.2 L570.6,35.8 L572.5,32.5 L574.5,29.5 L576.4,26.7 L578.4,24.0 L580.3,21.6 L582.3,19.6 L584.2,18.0 L586.1,16.6 L588.1,15.5 L593.3,15.0 L598.6,14.5 L603.8,14.2 L609.1,14.0 L614.4,13.9"/>
<path d="M460.2,218.2 L465.0,217.4 L470.1,216.0 L475.6,214.2 L481.4,211.6 L487.4,208.2 L493.4,204.2 L499.5,199.4 L505.6,194.1 L511.4,188.2 L517.1,181.5 L522.5,173.9 L527.5,165.4 L532.0,155.6 L536.2,144.8 L540.3,133.2 L544.5,121.0 L548.7,108.0 L552.8,95.0 L557.0,82.3 L561.1,70.5 L565.3,59.6 L567.3,54.9 L569.2,50.6 L571.1,46.6 L573.1,42.8 L575.0,39.2 L577.0,35.8 L578.9,32.5 L580.9,29.5 L582.8,26.7 L584.8,24.0 L586.7,21.6 L588.6,19.6 L590.6,18.0 L592.5,16.6 L594.5,15.5 L599.8,15.0 L605.1,14.5 L610.4,14.2 L615.7,14.0 L621.1,13.9"/>
<path d="M460.2,218.2 L464.5,217.4 L468.9,216.0 L473.3,214.2 L477.8,211.6 L482.4,208.2 L486.9,204.2 L491.5,199.4 L496.0,194.1 L500.6,188.2 L505.0,181.5 L509.5,173.9 L513.8,165.4 L518.0,155.6 L522.2,144.8 L526.4,133.2 L530.5,121.0 L534.7,108.0 L538.9,95.0 L543.0,82.3 L547.2,70.5 L551.4,59.6 L553.3,54.9 L555.2,50.6 L557.2,46.6 L559.1,42.8 L561.1,39.2 L563.0,35.8 L565.0,32.5 L566.9,29.5 L568.9,26.7 L570.8,24.0 L572.7,21.6 L574.7,19.6 L576.6,18.0 L578.6,16.6 L580.5,15.5 L584.6,15.0 L588.7,14.5 L592.8,14.2 L596.9,14.0 L601.0,13.9"/>
<path d="M460.2,218.2 L464.7,217.4 L469.5,216.0 L474.5,214.2 L479.6,211.6 L484.9,208.2 L490.2,204.2 L495.5,199.4 L500.8,194.1 L506.0,188.2 L511.1,181.5 L516.0,173.9 L520.7,165.4 L525.0,155.6 L529.2,144.8 L533.4,133.2 L537.5,121.0 L541.7,108.0 L545.8,95.0 L550.0,82.3 L554.2,70.5 L558.3,59.6 L560.3,54.9 L562.2,50.6 L564.2,46.6 L566.1,42.8 L568.1,39.2 L570.0,35.8 L571.9,32.5 L573.9,29.5 L575.8,26.7 L577.8,24.0 L579.7,21.6 L581.7,19.6 L583.6,18.0 L585.6,16.6 L587.5,15.5 L592.9,15.0 L598.2,14.5 L603.6,14.2 L609.0,14.0 L614.4,13.9"/>
<path d="M460.2,218.2 L464.4,217.4 L468.6,216.0 L472.9,214.2 L477.2,211.6 L481.5,208.2 L485.8,204.2 L490.1,199.4 L494.4,194.1 L498.7,188.2 L502.9,181.5 L507.2,173.9 L511.4,165.4 L515.6,155.6 L519.8,144.8 L523.9,133.2 L528.1,121.0 L532.3,108.0 L536.4,95.0 L540.6,82.3 L544.8,70.5 L548.9,59.6 L550.9,54.9 L552.8,50.6 L554.8,46.6 L556.7,42.8 L558.6,39.2 L560.6,35.8 L562.5,32.5 L564.5,29.5 L566.4,26.7 L568.4,24.0 L570.3,21.6 L572.3,19.6 L574.2,18.0 L576.1,16.6 L578.1,15.5 L581.3,15.0 L584.6,14.5 L587.8,14.2 L591.0,14.0 L594.2,13.9"/>
<path d="M460.2,218.2 L464.5,217.4 L468.8,216.0 L473.3,214.2 L477.7,211.6 L482.3,208.2 L486.8,204.2 L491.3,199.4 L495.9,194.1 L500.4,188.2 L504.8,181.5 L509.2,173.9 L513.6,165.4 L517.8,155.6 L521.9,144.8 L526.1,133.2 L530.3,121.0 L534.4,108.0 L538.6,95.0 L542.8,82.3 L546.9,70.5 L551.1,59.6 L553.0,54.9 L555.0,50.6 L556.9,46.6 L558.9,42.8 L560.8,39.2 L562.8,35.8 L564.7,32.5 L566.7,29.5 L568.6,26.7 L570.5,24.0 L572.5,21.6 L574.4,19.6 L576.4,18.0 L578.3,16.6 L580.3,15.5 L584.4,15.0 L588.5,14.5 L592.7,14.2 L596.8,14.0 L601.0,13.9"/>
<path d="M460.2,218.2 L464.8,217.4 L469.7,216.0 L474.9,214.2 L480.2,211.6 L485.7,208.2 L491.3,204.2 L496.8,199.4 L502.4,194.1 L507.8,188.2 L513.1,181.5 L518.2,173.9 L523.0,165.4 L527.4,155.6 L531.5,144.8 L535.7,133.2 L539.8,121.0 L544.0,108.0 L548.2,95.0 L552.3,82.3 L556.5,70.5 L560.7,59.6 L562.6,54.9 L564.6,50.6 L566.5,46.6 L568.4,42.8 L570.4,39.2 L572.3,35.8 L574.3,32.5 L576.2,29.5 L578.2,26.7 L580.1,24.0 L582.1,21.6 L584.0,19.6 L585.9,18.0 L587.9,16.6 L589.8,15.5 L594.7,15.0 L599.6,14.5 L604.5,14.2 L609.5,14.0 L614.4,13.9"/>
<path d="M460.2,218.2 L464.8,217.4 L469.7,216.0 L474.8,214.2 L480.1,211.6 L485.6,208.2 L491.1,204.2 L496.6,199.4 L502.1,194.1 L507.5,188.2 L512.8,181.5 L517.8,173.9 L522.6,165.4 L526.9,155.6 L531.1,144.8 L535.3,133.2 L539.4,121.0 L543.6,108.0 L547.8,95.0 L551.9,82.3 L556.1,70.5 L560.3,59.6 L562.2,54.9 L564.2,50.6 L566.1,46.6 L568.0,42.8 L570.0,39.2 L571.9,35.8 L573.9,32.5 L575.8,29.5 L577.8,26.7 L579.7,24.0 L581.6,21.6 L583.6,19.6 L585.5,18.0 L587.5,16.6 L589.4,15.5 L595.7,15.0 L602.1,14.5 L608.4,14.2 L614.7,14.0 L621.1,13.9"/>
<path d="M460.2,218.2 L465.0,217.4 L470.2,216.0 L475.7,214.2 L481.5,211.6 L487.5,208.2 L493.6,204.2 L499.7,199.4 L505.8,194.1 L511.7,188.2 L517.4,181.5 L522.8,173.9 L527.8,165.4 L532.3,155.6 L536.5,144.8 L540.6,133.2 L544.8,121.0 L549.0,108.0 L553.1,95.0 L557.3,82.3 L561.5,70.5 L565.6,59.6 L567.6,54.9 L569.5,50.6 L571.5,46.6 L573.4,42.8 L575.3,39.2 L577.3,35.8 L579.2,32.5 L581.2,29.5 L583.1,26.7 L585.1,24.0 L587.0,21.6 L589.0,19.6 L590.9,18.0 L592.8,16.6 L594.8,15.5 L601.4,15.0 L608.0,14.5 L614.6,14.2 L621.2,14.0 L627.8,13.9"/>
<path d="M460.2,218.2 L464.7,217.4 L469.6,216.0 L474.6,214.2 L479.8,211.6 L485.1,208.2 L490.5,204.2 L495.9,199.4 L501.2,194.1 L506.5,188.2 L511.6,181.5 L516.6,173.9 L521.3,165.4 L525.6,155.6 L529.8,144.8 L534.0,133.2 L538.1,121.0 L542.3,108.0 L546.5,95.0 L550.6,82.3 L554.8,70.5 L559.0,59.6 L560.9,54.9 L562.9,50.6 L564.8,46.6 L566.7,42.8 L568.7,39.2 L570.6,35.8 L572.6,32.5 L574.5,29.5 L576.5,26.7 L578.4,24.0 L580.4,21.6 L582.3,19.6 L584.2,18.0 L586.2,16.6 L588.1,15.5 L593.4,15.0 L598.6,14.5 L603.9,14.2 L609.1,14.0 L614.4,13.9"/>
<path d="M460.2,218.2 L464.8,217.4 L469.7,216.0 L474.9,214.2 L480.3,211.6 L485.8,208.2 L491.4,204.2 L497.0,199.4 L502.6,194.1 L508.0,188.2 L513.3,181.5 L518.4,173.9 L523.2,165.4 L527.6,155.6 L531.8,144.8 L536.0,133.2 L540.1,121.0 L544.3,108.0 L548.5,95.0 L552.6,82.3 L556.8,70.5 L560.9,59.6 L562.9,54.9 L564.8,50.6 L566.8,46.6 L568.7,42.8 L570.7,39.2 L572.6,35.8 L574.6,32.5 L576.5,29.5 L578.4,26.7 L580.4,24.0 L582.3,21.6 L584.3,19.6 L586.2,18.0 L588.2,16.6 L590.1,15.5 L596.3,15.0 L602.5,14.5 L608.7,14.2 L614.9,14.0 L621.1,13.9"/>
<path d="M460.2,218.2 L464.9,217.4 L470.1,216.0 L475.6,214.2 L481.3,211.6 L487.3,208.2 L493.3,204.2 L499.3,199.4 L505.3,194.1 L511.2,188.2 L516.8,181.5 L522.2,173.9 L527.2,165.4 L531.7,155.6 L535.8,144.8 L540.0,133.2 L544.1,121.0 L548.3,108.0 L552.5,95.0 L556.6,82.3 L560.8,70.5 L565.0,59.6 L566.9,54.9 L568.9,50.6 L570.8,46.6 L572.7,42.8 L574.7,39.2 L576.6,35.8 L578.6,32.5 L580.5,29.5 L582.5,26.7 L584.4,24.0 L586.4,21.6 L588.3,19.6 L590.2,18.0 L592.2,16.6 L594.1,15.5 L599.5,15.0 L604.9,14.5 L610.3,14.2 L615.7,14.0 L621.1,13.9"/>
<path d="M460.2,218.2 L464.9,217.4 L469.9,216.0 L475.2,214.2 L480.8,211.6 L486.5,208.2 L492.2,204.2 L498.0,199.4 L503.8,194.1 L509.5,188.2 L514.9,181.5 L520.1,173.9 L525.0,165.4 L529.4,155.6 L533.6,144.8 L537.8,133.2 L541.9,121.0 L546.1,108.0 L550.3,95.0 L554.4,82.3 L558.6,70.5 L562.8,59.6 L564.7,54.9 L566.6,50.6 L568.6,46.6 L570.5,42.8 L572.5,39.2 L574.4,35.8 L576.4,32.5 L578.3,29.5 L580.2,26.7 L582.2,24.0 L584.1,21.6 L586.1,19.6 L588.0,18.0 L590.0,16.6 L591.9,15.5 L597.7,15.0 L603.6,14.5 L609.4,14.2 L615.2,14.0 L621.1,13.9"/>
<path d="M460.2,218.2 L464.8,217.4 L469.6,216.0 L474.7,214.2 L480.0,211.6 L485.5,208.2 L490.9,204.2 L496.4,199.4 L501.9,194.1 L507.3,188.2 L512.5,181.5 L517.5,173.9 L522.3,165.4 L526.7,155.6 L530.8,144.8 L535.0,133.2 L539.2,121.0 L543.3,108.0 L547.5,95.0 L551.7,82.3 L555.8,70.5 L560.0,59.6 L561.9,54.9 L563.9,50.6 L565.8,46.6 L567.8,42.8 L569.7,39.2 L571.6,35.8 L573.6,32.5 L575.5,29.5 L577.5,26.7 L579.4,24.0 L581.4,21.6 L583.3,19.6 L585.2,18.0 L587.2,16.6 L589.1,15.5 L594.2,15.0 L599.2,14.5 L604.3,14.2 L609.3,14.0 L614.4,13.9"/>
<path d="M460.2,218.2 L464.9,217.4 L470.1,216.0 L475.5,214.2 L481.3,211.6 L487.2,208.2 L493.2,204.2 L499.2,199.4 L505.2,194.1 L511.0,188.2 L516.6,181.5 L522.0,173.9 L527.0,165.4 L531.4,155.6 L535.6,144.8 L539.7,133.2 L543.9,121.0 L548.1,108.0 L552.2,95.0 L556.4,82.3 L560.6,70.5 L564.7,59.6 L566.7,54.9 L568.6,50.6 L570.6,46.6 L572.5,42.8 L574.5,39.2 L576.4,35.8 L578.3,32.5 L580.3,29.5 L582.2,26.7 L584.2,24.0 L586.1,21.6 L588.1,19.6 L590.0,18.0 L591.9,16.6 L593.9,15.5 L599.3,15.0 L604.8,14.5 L610.2,14.2 L615.6,14.0 L621.1,13.9"/>
<path d="M460.2,218.2 L465.0,217.4 L470.3,216.0 L475.9,214.2 L481.8,211.6 L487.9,208.2 L494.1,204.2 L500.4,199.4 L506.5,194.1 L512.6,188.2 L518.4,181.5 L523.9,173.9 L529.0,165.4 L533.4,155.6 L537.6,144.8 L541.8,133.2 L545.9,121.0 L550.1,108.0 L554.3,95.0 L558.4,82.3 L562.6,70.5 L566.8,59.6 L568.7,54.9 L570.6,50.6 L572.6,46.6 L574.5,42.8 L576.5,39.2 L578.4,35.8 L580.4,32.5 L582.3,29.5 L584.3,26.7 L586.2,24.0 L588.1,21.6 L590.1,19.6 L592.0,18.0 L594.0,16.6 L595.9,15.5 L600.9,15.0 L606.0,14.5 L611.0,14.2 L616.0,14.0 L621.1,13.9"/>
<path d="M460.2,218.2 L464.4,217.4 L468.5,216.0 L472.7,214.2 L476.9,211.6 L481.0,208.2 L485.2,204.2 L489.4,199.4 L493.5,194.1 L497.7,188.2 L501.9,181.5 L506.0,173.9 L510.2,165.4 L514.3,155.6 L518.5,144.8 L522.7,133.2 L526.8,121.0 L531.0,108.0 L535.2,95.0 L539.3,82.3 L543.5,70.5 L547.7,59.6 L549.6,54.9 L551.6,50.6 L553.5,46.6 L555.4,42.8 L557.4,39.2 L559.3,35.8 L561.3,32.5 L563.2,29.5 L565.2,26.7 L567.1,24.0 L569.0,21.6 L571.0,19.6 L572.9,18.0 L574.9,16.6 L576.8,15.5 L580.3,15.0 L583.8,14.5 L587.3,14.2 L590.8,14.0 L594.2,13.9"/>
<path d="M460.2,218.2 L464.6,217.4 L469.3,216.0 L474.0,214.2 L478.9,211.6 L483.9,208.2 L488.9,204.2 L494.0,199.4 L499.0,194.1 L504.0,188.2 L508.8,181.5 L513.5,173.9 L518.1,165.4 L522.4,155.6 L526.6,144.8 L530.7,133.2 L534.9,121.0 L539.1,108.0 L543.2,95.0 L547.4,82.3 L551.5,70.5 L555.7,59.6 L557.7,54.9 L559.6,50.6 L561.5,46.6 L563.5,42.8 L565.4,39.2 L567.4,35.8 L569.3,32.5 L571.3,29.5 L573.2,26.7 L575.1,24.0 L577.1,21.6 L579.0,19.6 L581.0,18.0 L582.9,16.6 L584.9,15.5 L588.1,15.0 L591.3,14.5 L594.5,14.2 L597.7,14.0 L601.0,13.9"/>
<path d="M460.2,218.2 L464.8,217.4 L469.7,216.0 L474.9,214.2 L480.3,211.6 L485.8,208.2 L491.5,204.2 L497.1,199.4 L502.7,194.1 L508.1,188.2 L513.5,181.5 L518.6,173.9 L523.4,165.4 L527.8,155.6 L531.9,144.8 L536.1,133.2 L540.2,121.0 L544.4,108.0 L548.6,95.0 L552.7,82.3 L556.9,70.5 L561.1,59.6 L563.0,54.9 L565.0,50.6 L566.9,46.6 L568.8,42.8 L570.8,39.2 L572.7,35.8 L574.7,32.5 L576.6,29.5 L578.6,26.7 L580.5,24.0 L582.5,21.6 L584.4,19.6 L586.3,18.0 L588.3,16.6 L590.2,15.5 L593.7,15.0 L597.2,14.5 L600.7,14.2 L604.2,14.0 L607.7,13.9"/>
<path d="M460.2,218.2 L464.9,217.4 L469.9,216.0 L475.3,214.2 L480.8,211.6 L486.6,208.2 L492.4,204.2 L498.2,199.4 L504.0,194.1 L509.7,188.2 L515.2,181.5 L520.4,173.9 L525.3,165.4 L529.8,155.6 L533.9,144.8 L538.1,133.2 L542.3,121.0 L546.4,108.0 L550.6,95.0 L554.8,82.3 L558.9,70.5 L563.1,59.6 L565.0,54.9 L567.0,50.6 L568.9,46.6 L570.9,42.8 L572.8,39.2 L574.7,35.8 L576.7,32.5 L578.6,29.5 L580.6,26.7 L582.5,24.0 L584.5,21.6 L586.4,19.6 L588.4,18.0 L590.3,16.6 L592.2,15.5 L598.0,15.0 L603.8,14.5 L609.5,14.2 L615.3,14.0 L621.1,13.9"/>
</g>
<g fill="none" stroke="#0000ff" stroke-width="0.8" stroke-linejoin="round">
<path d="M460.2,218.2 L464.3,217.9 L468.3,217.5 L472.5,217.0 L476.6,216.4 L480.8,215.7 L484.9,214.9 L489.1,213.9 L493.3,212.8 L497.5,211.4 L501.7,209.8 L505.9,208.0 L510.0,205.9 L514.2,203.6 L518.3,201.0 L522.3,197.9 L526.4,194.7 L530.4,190.6 L534.5,185.2 L538.5,178.2 L542.5,169.2 L546.6,157.5 L550.6,143.7 L554.6,127.3 L556.0,121.1 L557.3,114.3 L558.6,106.7 L559.9,98.7 L561.3,90.4 L562.6,81.6 L563.9,73.3 L565.2,65.5 L566.6,58.1 L567.9,51.2 L569.2,44.8 L570.6,39.0 L571.9,33.7 L573.2,29.1 L574.5,25.0 L575.9,21.2 L577.2,18.3 L578.5,16.3 L579.8,15.1 L581.2,14.3 L582.5,13.9"/>
<path d="M460.2,218.2 L464.3,217.9 L468.5,217.5 L472.7,217.0 L477.0,216.4 L481.3,215.7 L485.7,214.9 L490.1,213.9 L494.5,212.8 L498.8,211.4 L503.2,209.8 L507.6,208.0 L511.9,205.9 L516.2,203.6 L520.4,201.0 L524.6,197.9 L528.6,194.7 L532.7,190.6 L536.8,185.2 L540.8,178.2 L544.9,169.2 L548.9,157.5 L553.0,143.7 L557.1,127.3 L558.4,121.1 L559.7,114.3 L561.1,106.7 L562.4,98.7 L563.7,90.4 L565.1,81.6 L566.4,73.3 L567.7,65.5 L569.1,58.1 L570.4,51.2 L571.7,44.8 L573.1,39.0 L574.4,33.7 L575.7,29.1 L577.1,25.0 L578.4,21.2 L579.7,18.3 L581.1,16.3 L582.4,15.1 L583.7,14.3 L585.1,13.9"/>
<path d="M460.2,218.2 L464.4,217.9 L468.6,217.5 L472.9,217.0 L477.3,216.4 L481.8,215.7 L486.3,214.9 L490.8,213.9 L495.3,212.8 L499.8,211.4 L504.3,209.8 L508.8,208.0 L513.2,205.9 L517.6,203.6 L521.9,201.0 L526.2,197.9 L530.3,194.7 L534.4,190.6 L538.5,185.2 L542.6,178.2 L546.7,169.2 L550.8,157.5 L555.0,143.7 L559.1,127.3 L560.4,121.1 L561.8,114.3 L563.1,106.7 L564.5,98.7 L565.8,90.4 L567.2,81.6 L568.5,73.3 L569.9,65.5 L571.2,58.1 L572.6,51.2 L573.9,44.8 L575.3,39.0 L576.6,33.7 L578.0,29.1 L579.3,25.0 L580.7,21.2 L582.0,18.3 L583.4,16.3 L584.7,15.1 L586.1,14.3 L587.4,13.9"/>
<path d="M460.2,218.2 L464.3,217.9 L468.6,217.5 L473.1,217.0 L477.6,216.4 L482.3,215.7 L487.0,214.9 L491.8,213.9 L496.6,212.8 L501.4,211.4 L506.2,209.8 L510.9,208.0 L515.6,205.9 L520.1,203.6 L524.6,201.0 L528.8,197.9 L532.9,194.7 L537.0,190.6 L541.0,185.2 L545.0,178.2 L549.1,169.2 L553.1,157.5 L557.2,143.7 L561.2,127.3 L562.5,121.1 L563.8,114.3 L565.2,106.7 L566.5,98.7 L567.8,90.4 L569.1,81.6 L570.5,73.3 L571.8,65.5 L573.1,58.1 L574.5,51.2 L575.8,44.8 L577.1,39.0 L578.4,33.7 L579.8,29.1 L581.1,25.0 L582.4,21.2 L583.7,18.3 L585.1,16.3 L586.4,15.1 L587.7,14.3 L589.0,13.9"/>
<path d="M460.2,218.2 L464.4,217.9 L468.7,217.5 L473.3,217.0 L478.0,216.4 L482.8,215.7 L487.7,214.9 L492.7,213.9 L497.7,212.8 L502.7,211.4 L507.7,209.8 L512.6,208.0 L517.4,205.9 L522.0,203.6 L526.6,201.0 L530.9,197.9 L535.0,194.7 L539.1,190.6 L543.1,185.2 L547.1,178.2 L551.2,169.2 L555.2,157.5 L559.3,143.7 L563.3,127.3 L564.6,121.1 L566.0,114.3 L567.3,106.7 L568.6,98.7 L569.9,90.4 L571.3,81.6 L572.6,73.3 L573.9,65.5 L575.3,58.1 L576.6,51.2 L577.9,44.8 L579.2,39.0 L580.6,33.7 L581.9,29.1 L583.2,25.0 L584.6,21.2 L585.9,18.3 L587.2,16.3 L588.5,15.1 L589.9,14.3 L591.2,13.9"/>
<path d="M460.2,218.2 L464.4,217.9 L468.8,217.5 L473.4,217.0 L478.1,216.4 L483.0,215.7 L487.9,214.9 L493.0,213.9 L498.0,212.8 L503.0,211.4 L508.1,209.8 L513.0,208.0 L517.8,205.9 L522.6,203.6 L527.1,201.0 L531.5,197.9 L535.6,194.7 L539.7,190.6 L543.7,185.2 L547.8,178.2 L551.9,169.2 L555.9,157.5 L560.0,143.7 L564.0,127.3 L565.4,121.1 L566.7,114.3 L568.0,106.7 L569.4,98.7 L570.7,90.4 L572.0,81.6 L573.4,73.3 L574.7,65.5 L576.1,58.1 L577.4,51.2 L578.7,44.8 L580.1,39.0 L581.4,33.7 L582.7,29.1 L584.1,25.0 L585.4,21.2 L586.7,18.3 L588.1,16.3 L589.4,15.1 L590.7,14.3 L592.1,13.9"/>
<path d="M460.2,218.2 L464.4,217.9 L468.8,217.5 L473.4,217.0 L478.2,216.4 L483.2,215.7 L488.2,214.9 L493.2,213.9 L498.4,212.8 L503.5,211.4 L508.5,209.8 L513.5,208.0 L518.4,205.9 L523.2,203.6 L527.8,201.0 L532.2,197.9 L536.3,194.7 L540.4,190.6 L544.5,185.2 L548.5,178.2 L552.6,169.2 L556.7,157.5 L560.7,143.7 L564.8,127.3 L566.1,121.1 L567.5,114.3 L568.8,106.7 L570.1,98.7 L571.5,90.4 L572.8,81.6 L574.1,73.3 L575.5,65.5 L576.8,58.1 L578.2,51.2 L579.5,44.8 L580.8,39.0 L582.2,33.7 L583.5,29.1 L584.8,25.0 L586.2,21.2 L587.5,18.3 L588.9,16.3 L590.2,15.1 L591.5,14.3 L592.9,13.9"/>
<path d="M460.2,218.2 L464.4,217.9 L468.8,217.5 L473.5,217.0 L478.4,216.4 L483.4,215.7 L488.5,214.9 L493.7,213.9 L498.9,212.8 L504.1,211.4 L509.2,209.8 L514.3,208.0 L519.3,205.9 L524.1,203.6 L528.8,201.0 L533.2,197.9 L537.3,194.7 L541.4,190.6 L545.4,185.2 L549.5,178.2 L553.5,169.2 L557.6,157.5 L561.6,143.7 L565.7,127.3 L567.0,121.1 L568.3,114.3 L569.7,106.7 L571.0,98.7 L572.3,90.4 L573.7,81.6 L575.0,73.3 L576.3,65.5 L577.7,58.1 L579.0,51.2 L580.3,44.8 L581.7,39.0 L583.0,33.7 L584.3,29.1 L585.7,25.0 L587.0,21.2 L588.3,18.3 L589.7,16.3 L591.0,15.1 L592.3,14.3 L593.6,13.9"/>
<path d="M460.2,218.2 L464.4,217.9 L468.9,217.5 L473.6,217.0 L478.5,216.4 L483.6,215.7 L488.8,214.9 L494.1,213.9 L499.4,212.8 L504.7,211.4 L510.0,209.8 L515.2,208.0 L520.2,205.9 L525.1,203.6 L529.8,201.0 L534.3,197.9 L538.4,194.7 L542.5,190.6 L546.5,185.2 L550.6,178.2 L554.6,169.2 L558.7,157.5 L562.7,143.7 L566.8,127.3 L568.1,121.1 L569.4,114.3 L570.8,106.7 L572.1,98.7 L573.4,90.4 L574.8,81.6 L576.1,73.3 L577.4,65.5 L578.8,58.1 L580.1,51.2 L581.4,44.8 L582.8,39.0 L584.1,33.7 L585.4,29.1 L586.7,25.0 L588.1,21.2 L589.4,18.3 L590.7,16.3 L592.1,15.1 L593.4,14.3 L594.7,13.9"/>
<path d="M460.2,218.2 L464.5,217.9 L469.0,217.5 L473.9,217.0 L479.0,216.4 L484.2,215.7 L489.7,214.9 L495.2,213.9 L500.7,212.8 L506.2,211.4 L511.7,209.8 L517.1,208.0 L522.4,205.9 L527.4,203.6 L532.2,201.0 L536.7,197.9 L540.9,194.7 L545.0,190.6 L549.1,185.2 L553.1,178.2 L557.2,169.2 L561.3,157.5 L565.4,143.7 L569.4,127.3 L570.8,121.1 L572.1,114.3 L573.5,106.7 L574.8,98.7 L576.1,90.4 L577.5,81.6 L578.8,73.3 L580.1,65.5 L581.5,58.1 L582.8,51.2 L584.2,44.8 L585.5,39.0 L586.8,33.7 L588.2,29.1 L589.5,25.0 L590.8,21.2 L592.2,18.3 L593.5,16.3 L594.9,15.1 L596.2,14.3 L597.5,13.9"/>
<path d="M460.2,218.2 L464.5,217.9 L469.2,217.5 L474.3,217.0 L479.6,216.4 L485.2,215.7 L490.9,214.9 L496.8,213.9 L502.7,212.8 L508.6,211.4 L514.5,209.8 L520.2,208.0 L525.8,205.9 L531.1,203.6 L536.1,201.0 L540.7,197.9 L544.9,194.7 L549.0,190.6 L553.0,185.2 L557.1,178.2 L561.2,169.2 L565.2,157.5 L569.3,143.7 L573.4,127.3 L574.7,121.1 L576.1,114.3 L577.4,106.7 L578.7,98.7 L580.1,90.4 L581.4,81.6 L582.7,73.3 L584.1,65.5 L585.4,58.1 L586.8,51.2 L588.1,44.8 L589.4,39.0 L590.8,33.7 L592.1,29.1 L593.4,25.0 L594.8,21.2 L596.1,18.3 L597.4,16.3 L598.8,15.1 L600.1,14.3 L601.5,13.9"/>
<path d="M460.2,218.2 L464.5,217.9 L469.2,217.5 L474.3,217.0 L479.8,216.4 L485.5,215.7 L491.4,214.9 L497.4,213.9 L503.4,212.8 L509.5,211.4 L515.5,209.8 L521.4,208.0 L527.0,205.9 L532.4,203.6 L537.4,201.0 L542.1,197.9 L546.3,194.7 L550.3,190.6 L554.4,185.2 L558.4,178.2 L562.4,169.2 L566.5,157.5 L570.5,143.7 L574.5,127.3 L575.8,121.1 L577.2,114.3 L578.5,106.7 L579.8,98.7 L581.1,90.4 L582.5,81.6 L583.8,73.3 L585.1,65.5 L586.4,58.1 L587.8,51.2 L589.1,44.8 L590.4,39.0 L591.7,33.7 L593.1,29.1 L594.4,25.0 L595.7,21.2 L597.0,18.3 L598.4,16.3 L599.7,15.1 L601.0,14.3 L602.3,13.9"/>
<path d="M460.2,218.2 L464.5,217.9 L469.3,217.5 L474.4,217.0 L479.9,216.4 L485.7,215.7 L491.6,214.9 L497.7,213.9 L503.8,212.8 L510.0,211.4 L516.0,209.8 L521.9,208.0 L527.6,205.9 L533.1,203.6 L538.2,201.0 L542.8,197.9 L547.1,194.7 L551.1,190.6 L555.2,185.2 L559.2,178.2 L563.3,169.2 L567.3,157.5 L571.4,143.7 L575.4,127.3 L576.8,121.1 L578.1,114.3 L579.4,106.7 L580.8,98.7 L582.1,90.4 L583.4,81.6 L584.8,73.3 L586.1,65.5 L587.4,58.1 L588.8,51.2 L590.1,44.8 L591.4,39.0 L592.8,33.7 L594.1,29.1 L595.4,25.0 L596.8,21.2 L598.1,18.3 L599.4,16.3 L600.8,15.1 L602.1,14.3 L603.4,13.9"/>
<path d="M460.2,218.2 L464.5,217.9 L469.4,217.5 L474.7,217.0 L480.3,216.4 L486.2,215.7 L492.4,214.9 L498.7,213.9 L505.0,212.8 L511.3,211.4 L517.6,209.8 L523.7,208.0 L529.6,205.9 L535.2,203.6 L540.4,201.0 L545.1,197.9 L549.4,194.7 L553.4,190.6 L557.5,185.2 L561.5,178.2 L565.6,169.2 L569.7,157.5 L573.7,143.7 L577.8,127.3 L579.1,121.1 L580.4,114.3 L581.8,106.7 L583.1,98.7 L584.4,90.4 L585.8,81.6 L587.1,73.3 L588.4,65.5 L589.8,58.1 L591.1,51.2 L592.4,44.8 L593.8,39.0 L595.1,33.7 L596.4,29.1 L597.8,25.0 L599.1,21.2 L600.4,18.3 L601.8,16.3 L603.1,15.1 L604.4,14.3 L605.8,13.9"/>
<path d="M460.2,218.2 L464.5,217.9 L469.5,217.5 L474.9,217.0 L480.7,216.4 L486.8,215.7 L493.2,214.9 L499.7,213.9 L506.3,212.8 L512.9,211.4 L519.4,209.8 L525.8,208.0 L531.8,205.9 L537.6,203.6 L542.9,201.0 L547.7,197.9 L552.0,194.7 L556.0,190.6 L560.0,185.2 L564.1,178.2 L568.1,169.2 L572.1,157.5 L576.2,143.7 L580.2,127.3 L581.5,121.1 L582.8,114.3 L584.2,106.7 L585.5,98.7 L586.8,90.4 L588.1,81.6 L589.5,73.3 L590.8,65.5 L592.1,58.1 L593.4,51.2 L594.8,44.8 L596.1,39.0 L597.4,33.7 L598.7,29.1 L600.1,25.0 L601.4,21.2 L602.7,18.3 L604.0,16.3 L605.4,15.1 L606.7,14.3 L608.0,13.9"/>
<path d="M460.2,218.2 L464.6,217.9 L469.6,217.5 L475.1,217.0 L481.0,216.4 L487.2,215.7 L493.7,214.9 L500.4,213.9 L507.1,212.8 L513.9,211.4 L520.5,209.8 L527.0,208.0 L533.2,205.9 L539.0,203.6 L544.4,201.0 L549.3,197.9 L553.6,194.7 L557.6,190.6 L561.7,185.2 L565.8,178.2 L569.8,169.2 L573.9,157.5 L578.0,143.7 L582.0,127.3 L583.4,121.1 L584.7,114.3 L586.0,106.7 L587.4,98.7 L588.7,90.4 L590.0,81.6 L591.4,73.3 L592.7,65.5 L594.0,58.1 L595.4,51.2 L596.7,44.8 L598.0,39.0 L599.4,33.7 L600.7,29.1 L602.0,25.0 L603.4,21.2 L604.7,18.3 L606.0,16.3 L607.4,15.1 L608.7,14.3 L610.0,13.9"/>
<path d="M460.2,218.2 L464.6,217.9 L469.6,217.5 L475.1,217.0 L481.1,216.4 L487.4,215.7 L494.0,214.9 L500.7,213.9 L507.6,212.8 L514.4,211.4 L521.1,209.8 L527.7,208.0 L533.9,205.9 L539.8,203.6 L545.3,201.0 L550.2,197.9 L554.4,194.7 L558.5,190.6 L562.5,185.2 L566.5,178.2 L570.6,169.2 L574.6,157.5 L578.6,143.7 L582.7,127.3 L584.0,121.1 L585.3,114.3 L586.6,106.7 L588.0,98.7 L589.3,90.4 L590.6,81.6 L592.0,73.3 L593.3,65.5 L594.6,58.1 L595.9,51.2 L597.3,44.8 L598.6,39.0 L599.9,33.7 L601.2,29.1 L602.6,25.0 L603.9,21.2 L605.2,18.3 L606.5,16.3 L607.9,15.1 L609.2,14.3 L610.5,13.9"/>
<path d="M460.2,218.2 L464.6,217.9 L469.6,217.5 L475.2,217.0 L481.2,216.4 L487.5,215.7 L494.1,214.9 L500.9,213.9 L507.7,212.8 L514.5,211.4 L521.3,209.8 L527.8,208.0 L534.1,205.9 L540.0,203.6 L545.5,201.0 L550.4,197.9 L554.7,194.7 L558.8,190.6 L562.9,185.2 L566.9,178.2 L571.0,169.2 L575.1,157.5 L579.2,143.7 L583.2,127.3 L584.6,121.1 L585.9,114.3 L587.3,106.7 L588.6,98.7 L590.0,90.4 L591.3,81.6 L592.6,73.3 L594.0,65.5 L595.3,58.1 L596.7,51.2 L598.0,44.8 L599.3,39.0 L600.7,33.7 L602.0,29.1 L603.4,25.0 L604.7,21.2 L606.0,18.3 L607.4,16.3 L608.7,15.1 L610.1,14.3 L611.4,13.9"/>
<path d="M460.2,218.2 L464.3,217.9 L468.3,217.5 L472.4,217.0 L476.5,216.4 L480.6,215.7 L484.8,214.9 L488.9,213.9 L493.0,212.8 L497.1,211.4 L501.2,209.8 L505.3,208.0 L509.4,205.9 L513.5,203.6 L517.6,201.0 L521.7,197.9 L525.8,194.7 L529.8,190.6 L533.9,185.2 L537.9,178.2 L542.0,169.2 L546.1,157.5 L550.1,143.7 L554.2,127.3 L555.5,121.1 L556.8,114.3 L558.2,106.7 L559.5,98.7 L560.8,90.4 L562.2,81.6 L563.5,73.3 L564.8,65.5 L566.2,58.1 L567.5,51.2 L568.8,44.8 L570.2,39.0 L571.5,33.7 L572.8,29.1 L574.2,25.0 L575.5,21.2 L576.8,18.3 L578.2,16.3 L579.5,15.1 L580.8,14.3 L582.2,13.9"/>
<path d="M460.2,218.2 L464.4,217.9 L468.7,217.5 L473.3,217.0 L477.9,216.4 L482.7,215.7 L487.6,214.9 L492.5,213.9 L497.4,212.8 L502.4,211.4 L507.3,209.8 L512.1,208.0 L516.9,205.9 L521.5,203.6 L526.0,201.0 L530.4,197.9 L534.5,194.7 L538.5,190.6 L542.6,185.2 L546.7,178.2 L550.7,169.2 L554.8,157.5 L558.8,143.7 L562.9,127.3 L564.2,121.1 L565.5,114.3 L566.9,106.7 L568.2,98.7 L569.5,90.4 L570.9,81.6 L572.2,73.3 L573.5,65.5 L574.9,58.1 L576.2,51.2 L577.5,44.8 L578.9,39.0 L580.2,33.7 L581.5,29.1 L582.9,25.0 L584.2,21.2 L585.5,18.3 L586.9,16.3 L588.2,15.1 L589.5,14.3 L590.9,13.9"/>
</g>
<path d="M460.2,13.9 H728.3" stroke="#000" stroke-width="1.5" fill="none"/>
<g fill="#a00000">
<circle cx="493.7" cy="201.3" r="2.6"/>
<circle cx="500.4" cy="198.6" r="2.6"/>
<circle cx="507.1" cy="177.9" r="2.6"/>
<circle cx="507.1" cy="186.7" r="2.6"/>
<circle cx="513.8" cy="159.8" r="2.6"/>
<circle cx="513.8" cy="164.8" r="2.6"/>
<circle cx="513.8" cy="180.4" r="2.6"/>
<circle cx="520.5" cy="169.1" r="2.6"/>
<circle cx="520.5" cy="177.1" r="2.6"/>
<circle cx="527.2" cy="151.5" r="2.6"/>
<circle cx="527.2" cy="156.5" r="2.6"/>
<circle cx="527.2" cy="165.3" r="2.6"/>
<circle cx="533.9" cy="143.9" r="2.6"/>
<circle cx="540.6" cy="116.4" r="2.6"/>
<circle cx="540.6" cy="130.6" r="2.6"/>
<circle cx="540.6" cy="136.4" r="2.6"/>
<path d="M591.0,14.5 L597.5,14.5 L594.2,9.1 Z"/>
<path d="M597.7,14.5 L604.3,14.5 L601.0,9.1 Z"/>
<path d="M604.4,14.5 L611.0,14.5 L607.7,9.1 Z"/>
<path d="M611.1,14.5 L617.7,14.5 L614.4,9.1 Z"/>
<path d="M617.8,14.5 L624.4,14.5 L621.1,9.1 Z"/>
<path d="M624.5,14.5 L631.1,14.5 L627.8,9.1 Z"/>
<path d="M631.2,14.5 L637.8,14.5 L634.5,9.1 Z"/>
</g>
<g fill="#000090">
<circle cx="554.0" cy="129.8" r="2.6"/>
<circle cx="560.7" cy="108.6" r="2.6"/>
<circle cx="560.7" cy="119.5" r="2.6"/>
<circle cx="560.7" cy="129.2" r="2.6"/>
<circle cx="567.4" cy="105.8" r="2.6"/>
<circle cx="567.4" cy="110.2" r="2.6"/>
<circle cx="567.4" cy="114.4" r="2.6"/>
<circle cx="567.4" cy="118.9" r="2.6"/>
<circle cx="567.4" cy="124.2" r="2.6"/>
<circle cx="567.4" cy="135.4" r="2.6"/>
<circle cx="574.1" cy="123.8" r="2.6"/>
<circle cx="574.1" cy="128.9" r="2.6"/>
<circle cx="574.1" cy="132.6" r="2.6"/>
<circle cx="574.1" cy="142.0" r="2.6"/>
<circle cx="580.8" cy="124.2" r="2.6"/>
<circle cx="580.8" cy="132.1" r="2.6"/>
<circle cx="587.5" cy="101.3" r="2.6"/>
<circle cx="587.5" cy="105.1" r="2.6"/>
<path d="M576.9,11.9 L584.1,11.9 L580.5,17.5 Z"/>
<path d="M583.6,11.9 L590.8,11.9 L587.2,17.5 Z"/>
<path d="M590.4,11.9 L597.6,11.9 L594.0,17.5 Z"/>
<path d="M597.1,11.9 L604.3,11.9 L600.7,17.5 Z"/>
<path d="M603.8,11.9 L611.0,11.9 L607.4,17.5 Z"/>
<path d="M610.5,11.9 L617.7,11.9 L614.1,17.5 Z"/>
</g>
</g>
<g font-size="20" text-anchor="end">
<text x="447.8" y="226.9">0</text>
<text x="447.8" y="185.6">0.2</text>
<text x="447.8" y="144.3">0.4</text>
<text x="447.8" y="102.9">0.6</text>
<text x="447.8" y="61.6">0.8</text>
<text x="447.8" y="20.8">1</text>
</g>
<g font-size="20" text-anchor="middle">
<text x="462.4" y="247.2">0</text>
<text x="529.4" y="247.2">10</text>
<text x="596.5" y="247.2">20</text>
<text x="663.5" y="247.2">30</text>
<text x="730.5" y="247.2">40</text>
</g>
<text x="593.5" y="270.8" font-size="23" text-anchor="middle">Time</text>
<text transform="translate(404.2,126.0) rotate(-90)" font-size="22.5" text-anchor="middle">Global adoption ratio</text>
<text x="391.6" y="16.4" font-family="'Liberation Sans', Arial, sans-serif" font-weight="bold" font-size="21">B</text>
<text x="98.0" y="33.8" font-size="21">SQL</text>
<path d="M306.7,54.3 L286.3,39.1" stroke="#ff0000" stroke-width="1.3" fill="none"/><path d="M280.5,34.8 L288.6,37.6 L285.5,41.8 Z" fill="#ff0000"/>
<text x="310.2" y="60.0" font-size="21">γ<tspan dy="2.3" dx="-0.8" font-size="23">=</tspan><tspan dy="-2.3" dx="-1.5">0</tspan></text>
<path d="M260.4,137.7 L219.2,137.7" stroke="#0000ff" stroke-width="1.3" fill="none"/><path d="M212.0,137.7 L220.2,135.1 L220.2,140.3 Z" fill="#0000ff"/>
<text x="264.6" y="142.2" font-size="21">γ<tspan dy="2.3" dx="-0.8" font-size="23">=</tspan><tspan dy="-2.3" dx="-1.5">0.2</tspan></text>
<text x="722.4" y="33.4" font-size="20.8" text-anchor="end">SWN</text>
<text x="722.8" y="58.2" font-size="20.8" text-anchor="end">(<tspan font-style="italic">P</tspan><tspan font-size="16" dy="5">SW</tspan><tspan dy="-2.8" font-size="23">=</tspan><tspan dy="-2.2">0.05)</tspan></text>
<path d="M492.8,86.0 L517.0,122.4" stroke="#ff0000" stroke-width="1.3" fill="none"/><path d="M521.0,128.4 L514.6,122.8 L518.3,120.4 Z" fill="#ff0000"/>
<text x="473.4" y="80.6" font-size="21">γ<tspan dy="2.3" dx="-0.8" font-size="23">=</tspan><tspan dy="-2.3" dx="-1.5">0</tspan></text>
<path d="M641.4,137.6 L594.5,137.6" stroke="#0000ff" stroke-width="1.3" fill="none"/><path d="M587.3,137.6 L595.5,135.0 L595.5,140.2 Z" fill="#0000ff"/>
<text x="642.8" y="142.2" font-size="21">γ<tspan dy="2.3" dx="-0.8" font-size="23">=</tspan><tspan dy="-2.3" dx="-1.5">0.2</tspan></text>
</svg>
</body>
</html>
